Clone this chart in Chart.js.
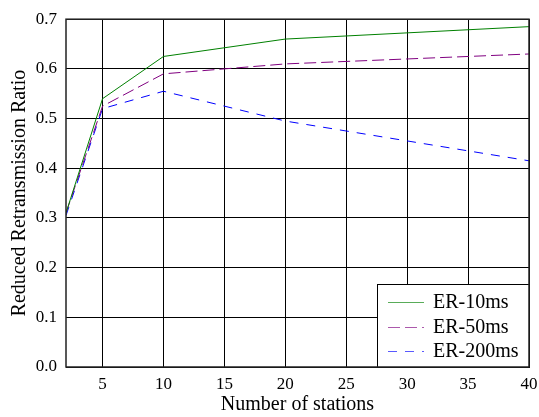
<!DOCTYPE html>
<html>
<head>
<meta charset="utf-8">
<script src="https://cdn.jsdelivr.net/npm/chart.js@4/dist/chart.umd.min.js"></script>
<style>
  html, body { margin: 0; padding: 0; background: #fff; }
  #wrap { width: 539px; height: 417px; }
</style>
</head>
<body>
<div id="wrap"><canvas id="ratioChart"></canvas></div>
<script>
// number of stations
const stations = [2, 5, 10, 20, 40];
const er10 = [0.31, 0.54, 0.625, 0.66, 0.685];
const er50 = [0.31, 0.525, 0.59, 0.61, 0.63];
const er200 = [0.305, 0.52, 0.555, 0.495, 0.415];
const seriesNames = ['ER-10ms', 'ER-50ms', 'ER-200ms'];
const xTicks = [5, 10, 15, 20, 25, 30, 35, 40];

const serif = '"Liberation Serif", "Times New Roman", serif';

function pts(ys) {
    return stations.map((x, i) => ({ x: x, y: ys[i] }));
}

// legend box at lower right + frame
const frameAndLegend = {
    id: 'frameAndLegend',
    afterDraw(chart) {
        const ctx = chart.ctx;
        const a = chart.chartArea;
        ctx.save();
        // legend box
        const bx = 377, by = 284, bw = a.right - 377, bh = a.bottom - 284;
        ctx.fillStyle = '#fff';
        ctx.fillRect(bx, by, bw, bh);
        ctx.strokeStyle = '#000';
        ctx.lineWidth = 1;
        ctx.strokeRect(bx + 0.5, by + 0.5, bw, bh);
        chart.data.datasets.forEach((ds, i) => {
            const y = 302 + i * 24.5;
            ctx.strokeStyle = ds.borderColor;
            ctx.globalAlpha = 0.65;
            ctx.lineWidth = 1;
            ctx.setLineDash(ds.borderDash || []);
            ctx.beginPath();
            ctx.moveTo(388, Math.round(y) + 0.5);
            ctx.lineTo(424, Math.round(y) + 0.5);
            ctx.stroke();
            ctx.setLineDash([]);
            ctx.globalAlpha = 1;
            ctx.fillStyle = '#000';
            ctx.font = '20px ' + serif;
            ctx.textBaseline = 'middle';
            ctx.fillText(ds.label, 433, y + 1);
        });
        // plot frame
        ctx.strokeStyle = '#222';
        ctx.lineWidth = 1.5;
        ctx.strokeRect(a.left, a.top, a.right - a.left, a.bottom - a.top);
        ctx.restore();
    }
};

const config = {
    type: 'line',
    data: {
        datasets: [
            { label: seriesNames[0], data: pts(er10), borderColor: '#008000', borderWidth: 1 },
            { label: seriesNames[1], data: pts(er50), borderColor: '#800080', borderWidth: 1, borderDash: [12, 5] },
            { label: seriesNames[2], data: pts(er200), borderColor: '#0000ff', borderWidth: 1, borderDash: [9, 8] }
        ]
    },
    options: {
        responsive: true,
        maintainAspectRatio: false,
        animation: false,
        layout: { padding: { top: 19, right: 0, left: 0, bottom: 0 } },
        elements: { point: { radius: 0 }, line: { tension: 0 } },
        plugins: { legend: { display: false }, tooltip: { enabled: false } },
        scales: {
            x: {
                type: 'linear',
                min: 2,
                max: 40,
                afterBuildTicks: (scale) => { scale.ticks = xTicks.map(v => ({ value: v })); },
                afterFit: (scale) => { scale.height = 50; scale.paddingRight = 10; scale.paddingLeft = 0; },
                grid: { color: '#000', lineWidth: 1, drawTicks: false },
                border: { display: false },
                ticks: { color: '#000', font: { family: serif, size: 17 }, padding: 7, maxRotation: 0 },
                title: { display: true, text: 'Number of stations', color: '#000', font: { family: serif, size: 20 }, padding: { top: 0, bottom: 0 } }
            },
            y: {
                min: 0,
                max: 0.7,
                afterFit: (scale) => { scale.width = 66; },
                grid: { color: '#000', lineWidth: 1, drawTicks: false },
                border: { display: false },
                ticks: { stepSize: 0.1, color: '#000', font: { family: serif, size: 17 }, padding: 9, callback: (v) => v.toFixed(1) },
                title: { display: true, text: 'Reduced Retransmission Ratio', color: '#000', font: { family: serif, size: 20 }, padding: { top: 8, bottom: 0 } }
            }
        }
    },
    plugins: [frameAndLegend]
};

window.onload = function () {
    const ctx = document.getElementById('ratioChart').getContext('2d');
    new Chart(ctx, config);
};
</script>
</body>
</html>
